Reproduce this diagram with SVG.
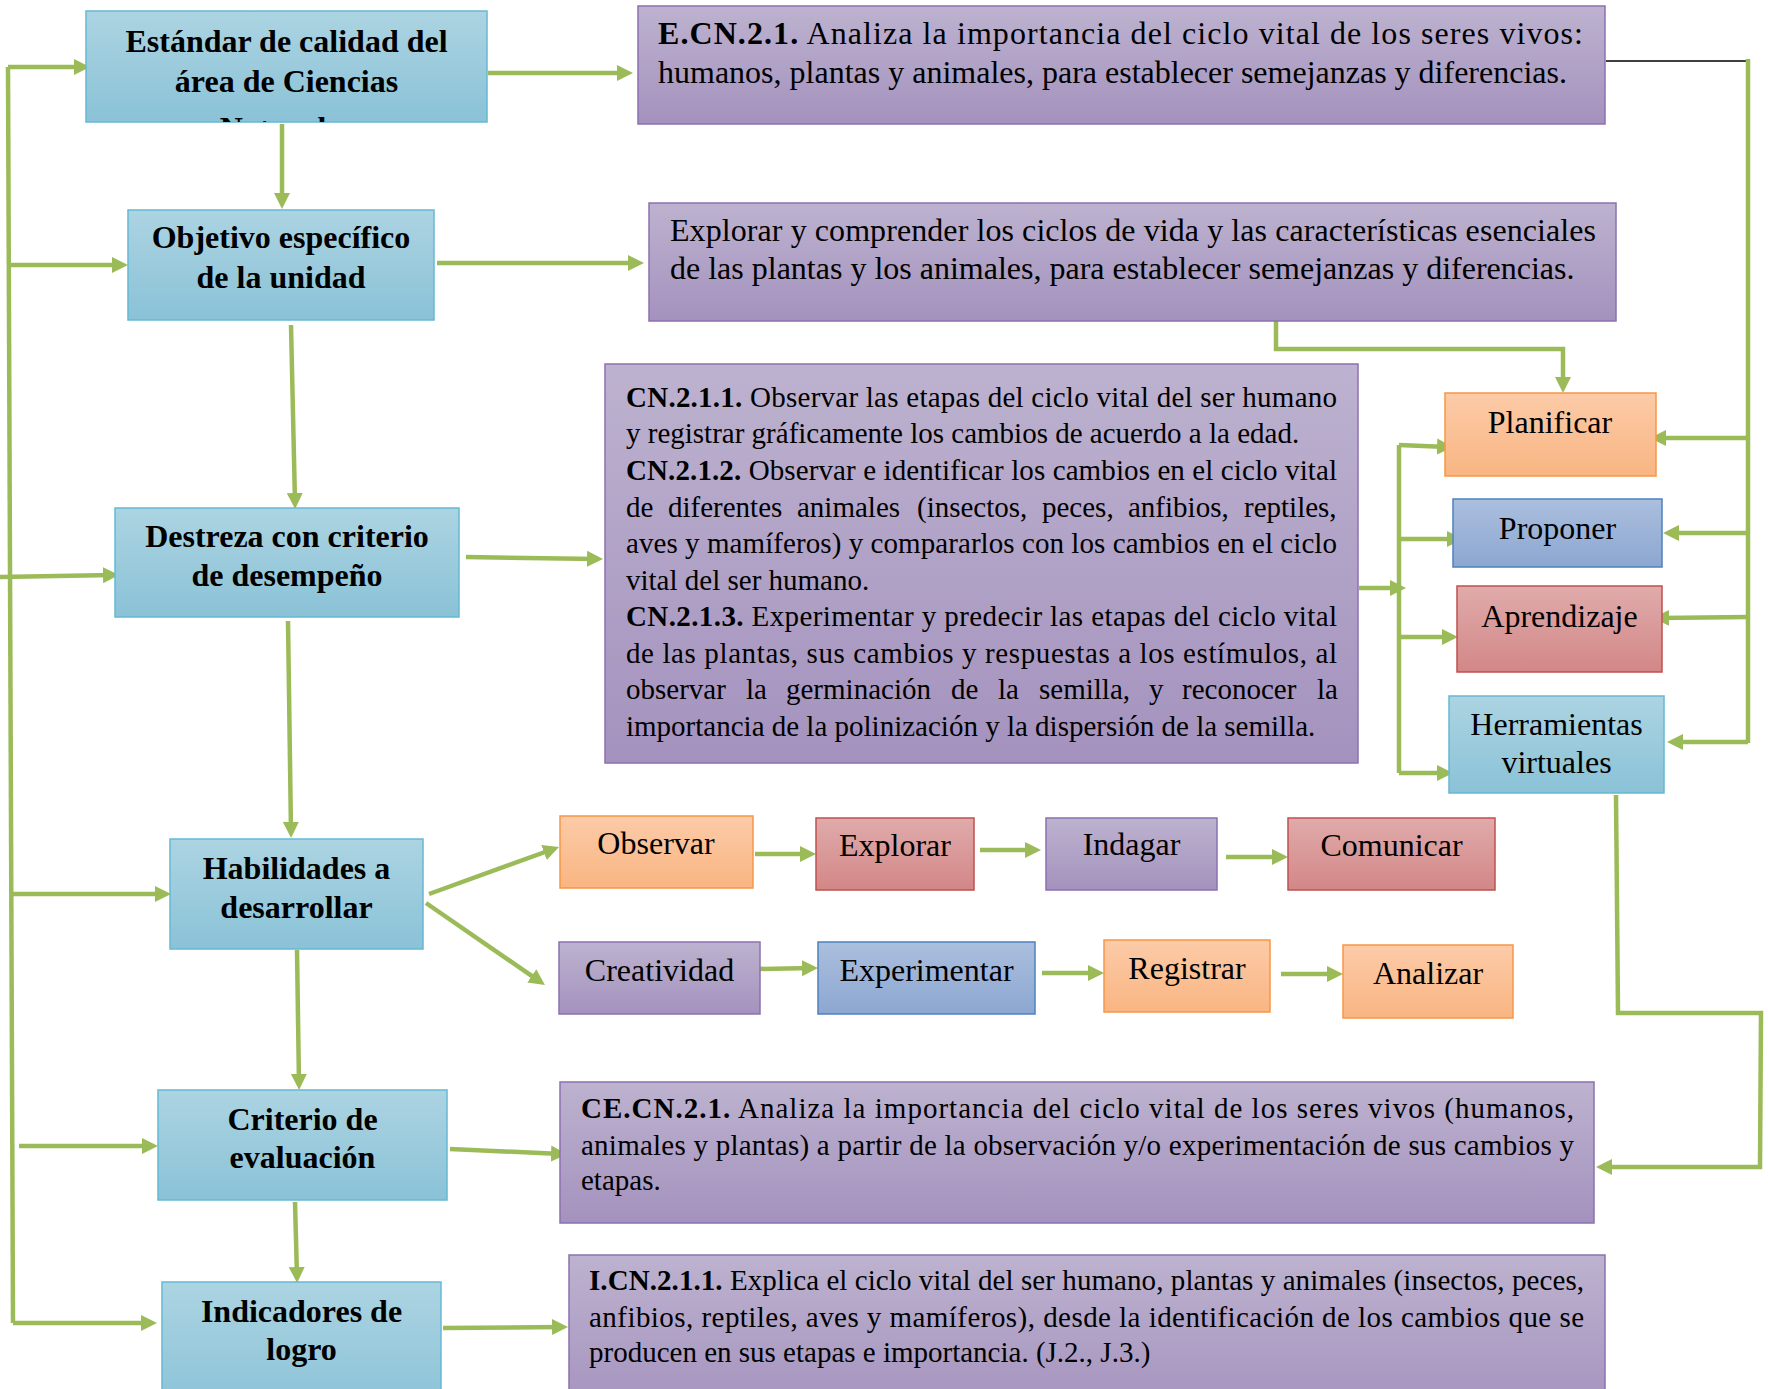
<svg xmlns="http://www.w3.org/2000/svg" width="1768" height="1389" viewBox="0 0 1768 1389">
<defs>
<linearGradient id="gBlue" x1="0" y1="0" x2="0" y2="1"><stop offset="0" stop-color="#ACD4E2"/><stop offset="1" stop-color="#8AC2D7"/></linearGradient>
<linearGradient id="gPurple" x1="0" y1="0" x2="0" y2="1"><stop offset="0" stop-color="#BDB2CF"/><stop offset="1" stop-color="#A492BE"/></linearGradient>
<linearGradient id="gOrange" x1="0" y1="0" x2="0" y2="1"><stop offset="0" stop-color="#FCCBA8"/><stop offset="1" stop-color="#F9B582"/></linearGradient>
<linearGradient id="gSteel" x1="0" y1="0" x2="0" y2="1"><stop offset="0" stop-color="#ABBFDE"/><stop offset="1" stop-color="#8CA7D1"/></linearGradient>
<linearGradient id="gRed" x1="0" y1="0" x2="0" y2="1"><stop offset="0" stop-color="#E0ABAB"/><stop offset="1" stop-color="#D38787"/></linearGradient>
<marker id="arr" markerUnits="userSpaceOnUse" markerWidth="17" markerHeight="17" refX="10" refY="8.5" orient="auto">
<path d="M0,0.5 L16,8.5 L0,16.5 z" fill="#9BBB59"/>
</marker>
<clipPath id="clipStd"><rect x="86" y="11" width="401" height="111"/></clipPath>
<style>
.lb{fill:url(#gBlue);stroke:#66B9D3;stroke-width:1.5}
.pu{fill:url(#gPurple);stroke:#8D70B0;stroke-width:1.5}
.or{fill:url(#gOrange);stroke:#F79646;stroke-width:1.5}
.st{fill:url(#gSteel);stroke:#4F81BD;stroke-width:1.5}
.rd{fill:url(#gRed);stroke:#C0504D;stroke-width:1.5}
text{font-family:"Liberation Serif","Times New Roman",serif;fill:#000}
.bt{font-size:32px;font-weight:bold;text-anchor:middle}
.nt{font-size:32px;text-anchor:middle}
.pt{font-size:32px}
.ct{font-size:29px}
.b{font-weight:bold}
.c{fill:none;stroke:#9BBB59;stroke-width:4.5}
.a{marker-end:url(#arr)}
</style>
</defs>

<g id="connectors">
<path class="c" d="M8,67 L13,1323"/>
<path class="c a" d="M8,67 L84,67"/>
<path class="c a" d="M9,265 L122,265"/>
<path class="c a" d="M0,577 L113,575"/>
<path class="c a" d="M12,894 L165,894"/>
<path class="c a" d="M19,1146 L152,1146"/>
<path class="c a" d="M13,1323 L151,1323"/>
<path class="c a" d="M282,124 L282,203"/>
<path class="c a" d="M291,325 L295,503"/>
<path class="c a" d="M288,621 L291,832"/>
<path class="c a" d="M297,950 L299,1084"/>
<path class="c a" d="M295,1202 L297,1277"/>
<path class="c a" d="M488,73 L627,73"/>
<path class="c a" d="M437,263 L638,263"/>
<path class="c a" d="M466,557 L597,559"/>
<path class="c a" d="M429,894 L553.4,849"/>
<path class="c a" d="M426,903 L540,981.6"/>
<path class="c a" d="M450,1149 L561,1154"/>
<path class="c a" d="M443,1328 L562,1327"/>
<path class="c a" d="M755,854 L810,854"/>
<path class="c a" d="M980,850 L1035,850"/>
<path class="c a" d="M1226,857 L1282,857"/>
<path class="c a" d="M756,969 L812,968"/>
<path class="c a" d="M1042,973 L1098,973"/>
<path class="c a" d="M1281,974 L1337,974"/>
<path class="c a" d="M1276,321 L1276,349 L1563,349 L1563,387"/>
<path class="c a" d="M1359,588 L1400,588"/>
<path class="c" d="M1399,445 L1399,773"/>
<path class="c a" d="M1399,445 L1447,447"/>
<path class="c a" d="M1399,539 L1457,539"/>
<path class="c a" d="M1399,637 L1452,637"/>
<path class="c a" d="M1399,773 L1447,773"/>
<path d="M1606,61 L1748,61" fill="none" stroke="#000" stroke-width="1.6"/>
<path class="c" d="M1748,59 L1748,743"/>
<path class="c a" d="M1748,438 L1656,438"/>
<path class="c a" d="M1748,533 L1669,533"/>
<path class="c a" d="M1748,617 L1659,618"/>
<path class="c a" d="M1748,742 L1673,742"/>
<path class="c a" d="M1616,795 L1618,1013 L1761,1013 L1760,1167 L1602,1167"/>
</g>

<g id="n-estandar">
<rect class="lb" x="86" y="11" width="401" height="111"/>
<g clip-path="url(#clipStd)">
<text class="bt" x="286.5" y="52">Estándar de calidad del</text>
<text class="bt" x="286.5" y="92">área de Ciencias</text>
<text class="bt" x="286.5" y="139">Naturales</text>
</g>
</g>

<g id="n-ecn">
<rect class="pu" x="638" y="6" width="967" height="118"/>
<text class="pt" x="658" y="44" textLength="925" lengthAdjust="spacing"><tspan class="b">E.CN.2.1.</tspan> Analiza la importancia del ciclo vital de los seres vivos:</text>
<text class="pt" x="658" y="83">humanos, plantas y animales, para establecer semejanzas y diferencias.</text>
</g>

<g id="n-objetivo">
<rect class="lb" x="128" y="210" width="306" height="110"/>
<text class="bt" x="281" y="248">Objetivo específico</text>
<text class="bt" x="281" y="288">de la unidad</text>
</g>

<g id="n-obj-text">
<rect class="pu" x="649" y="203" width="967" height="118"/>
<text class="pt" x="670" y="241" textLength="926" lengthAdjust="spacing">Explorar y comprender los ciclos de vida y las características esenciales</text>
<text class="pt" x="670" y="279">de las plantas y los animales, para establecer semejanzas y diferencias.</text>
</g>

<g id="n-destreza">
<rect class="lb" x="115" y="508" width="344" height="109"/>
<text class="bt" x="287" y="547">Destreza con criterio</text>
<text class="bt" x="287" y="586">de desempeño</text>
</g>

<g id="n-cn">
<rect class="pu" x="605" y="364" width="753" height="399"/>
<text class="ct" x="626" y="407" textLength="711" lengthAdjust="spacing"><tspan class="b">CN.2.1.1.</tspan> Observar las etapas del ciclo vital del ser humano</text>
<text class="ct" x="626" y="443">y registrar gráficamente los cambios de acuerdo a la edad.</text>
<text class="ct" x="626" y="480" textLength="711" lengthAdjust="spacing"><tspan class="b">CN.2.1.2.</tspan> Observar e identificar los cambios en el ciclo vital</text>
<text class="ct" y="517"><tspan x="626">de</tspan><tspan x="668">diferentes</tspan><tspan x="797">animales</tspan><tspan x="917">(insectos,</tspan><tspan x="1042">peces,</tspan><tspan x="1128">anfibios,</tspan><tspan x="1244">reptiles,</tspan></text>
<text class="ct" x="626" y="553" textLength="711" lengthAdjust="spacing">aves y mamíferos) y compararlos con los cambios en el ciclo</text>
<text class="ct" x="626" y="590">vital del ser humano.</text>
<text class="ct" x="626" y="626" textLength="711" lengthAdjust="spacing"><tspan class="b">CN.2.1.3.</tspan> Experimentar y predecir las etapas del ciclo vital</text>
<text class="ct" x="626" y="663" textLength="711" lengthAdjust="spacing">de las plantas, sus cambios y respuestas a los estímulos, al</text>
<text class="ct" y="699"><tspan x="626">observar</tspan><tspan x="746">la</tspan><tspan x="786">germinación</tspan><tspan x="951">de</tspan><tspan x="998">la</tspan><tspan x="1039">semilla,</tspan><tspan x="1149">y</tspan><tspan x="1182">reconocer</tspan><tspan x="1317">la</tspan></text>
<text class="ct" x="626" y="736">importancia de la polinización y la dispersión de la semilla.</text>
</g>

<g id="n-planificar">
<rect class="or" x="1445" y="393" width="211" height="83"/>
<text class="nt" x="1550" y="433">Planificar</text>
</g>
<g id="n-proponer">
<rect class="st" x="1453" y="499" width="209" height="68"/>
<text class="nt" x="1557.5" y="539">Proponer</text>
</g>
<g id="n-aprendizaje">
<rect class="rd" x="1457" y="586" width="205" height="86"/>
<text class="nt" x="1559.5" y="627">Aprendizaje</text>
</g>
<g id="n-herramientas">
<rect class="lb" x="1449" y="696" width="215" height="97"/>
<text class="nt" x="1556.5" y="735">Herramientas</text>
<text class="nt" x="1556.5" y="773">virtuales</text>
</g>

<g id="n-habilidades">
<rect class="lb" x="170" y="839" width="253" height="110"/>
<text class="bt" x="296.5" y="879">Habilidades a</text>
<text class="bt" x="296.5" y="918">desarrollar</text>
</g>

<g id="n-observar">
<rect class="or" x="560" y="816" width="193" height="72"/>
<text class="nt" x="656" y="854">Observar</text>
</g>
<g id="n-explorar">
<rect class="rd" x="816" y="818" width="158" height="72"/>
<text class="nt" x="895" y="856">Explorar</text>
</g>
<g id="n-indagar">
<rect class="pu" x="1046" y="818" width="171" height="72"/>
<text class="nt" x="1131.5" y="855">Indagar</text>
</g>
<g id="n-comunicar">
<rect class="rd" x="1288" y="818" width="207" height="72"/>
<text class="nt" x="1391.5" y="856">Comunicar</text>
</g>
<g id="n-creatividad">
<rect class="pu" x="559" y="942" width="201" height="72"/>
<text class="nt" x="659.5" y="981">Creatividad</text>
</g>
<g id="n-experimentar">
<rect class="st" x="818" y="942" width="217" height="72"/>
<text class="nt" x="926.5" y="981">Experimentar</text>
</g>
<g id="n-registrar">
<rect class="or" x="1104" y="940" width="166" height="72"/>
<text class="nt" x="1187" y="979">Registrar</text>
</g>
<g id="n-analizar">
<rect class="or" x="1343" y="945" width="170" height="73"/>
<text class="nt" x="1428" y="984">Analizar</text>
</g>

<g id="n-criterio">
<rect class="lb" x="158" y="1090" width="289" height="110"/>
<text class="bt" x="302.5" y="1130">Criterio de</text>
<text class="bt" x="302.5" y="1168">evaluación</text>
</g>

<g id="n-cecn">
<rect class="pu" x="560" y="1082" width="1034" height="141"/>
<text class="ct" x="581" y="1118" textLength="993" lengthAdjust="spacing"><tspan class="b">CE.CN.2.1.</tspan> Analiza la importancia del ciclo vital de los seres vivos (humanos,</text>
<text class="ct" x="581" y="1155" textLength="993" lengthAdjust="spacing">animales y plantas) a partir de la observación y/o experimentación de sus cambios y</text>
<text class="ct" x="581" y="1190">etapas.</text>
</g>

<g id="n-indicadores">
<rect class="lb" x="162" y="1282" width="279" height="130"/>
<text class="bt" x="301.5" y="1322">Indicadores de</text>
<text class="bt" x="301.5" y="1360">logro</text>
</g>

<g id="n-icn">
<rect class="pu" x="569" y="1255" width="1036" height="160"/>
<text class="ct" x="589" y="1290" textLength="995" lengthAdjust="spacing"><tspan class="b">I.CN.2.1.1.</tspan> Explica el ciclo vital del ser humano, plantas y animales (insectos, peces,</text>
<text class="ct" x="589" y="1327" textLength="995" lengthAdjust="spacing">anfibios, reptiles, aves y mamíferos), desde la identificación de los cambios que se</text>
<text class="ct" x="589" y="1362">producen en sus etapas e importancia. (J.2., J.3.)</text>
</g>
</svg>
